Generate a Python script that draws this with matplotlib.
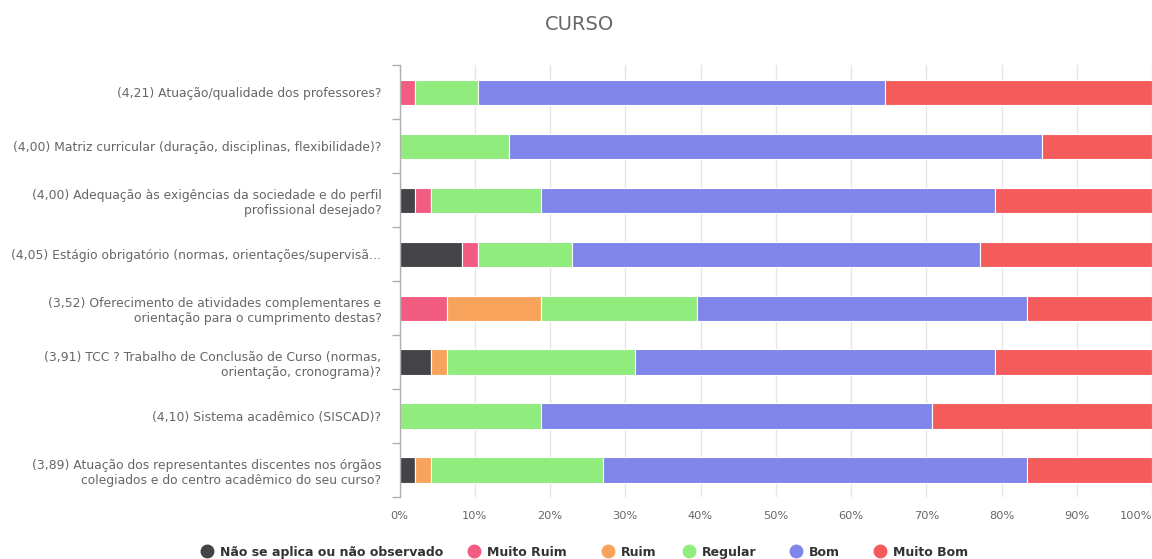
import matplotlib
matplotlib.use("Agg")
import matplotlib.pyplot as plt
from matplotlib.lines import Line2D
import numpy as np

# Survey items (mean score in parentheses)
categories = [
    "(4,21) Atuação/qualidade dos professores?",
    "(4,00) Matriz curricular (duração, disciplinas, flexibilidade)?",
    "(4,00) Adequação às exigências da sociedade e do perfil\nprofissional desejado?",
    "(4,05) Estágio obrigatório (normas, orientações/supervisã...",
    "(3,52) Oferecimento de atividades complementares e\norientação para o cumprimento destas?",
    "(3,91) TCC ? Trabalho de Conclusão de Curso (normas,\norientação, cronograma)?",
    "(4,10) Sistema acadêmico (SISCAD)?",
    "(3,89) Atuação dos representantes discentes nos órgãos\ncolegiados e do centro acadêmico do seu curso?",
]

series_names = ["Não se aplica ou não observado", "Muito Ruim", "Ruim",
                "Regular", "Bom", "Muito Bom"]

# Percentage of answers per item
nao_se_aplica = [0.00, 0.00, 2.08, 8.33, 0.00, 4.17, 0.00, 2.08]
muito_ruim    = [2.08, 0.00, 2.08, 2.08, 6.25, 0.00, 0.00, 0.00]
ruim          = [0.00, 0.00, 0.00, 0.00, 12.50, 2.08, 0.00, 2.08]
regular       = [8.33, 14.58, 14.58, 12.50, 20.83, 25.00, 18.75, 22.92]
bom           = [54.17, 70.83, 60.42, 54.17, 43.75, 47.92, 52.08, 56.25]
muito_bom     = [35.42, 14.58, 20.83, 22.92, 16.67, 20.83, 29.17, 16.67]

x_ticks = [0, 10, 20, 30, 40, 50, 60, 70, 80, 90, 100]
x_tick_labels = ["0%", "10%", "20%", "30%", "40%", "50%", "60%", "70%", "80%", "90%", "100%"]

colors = ["#434348", "#f15c80", "#f7a35c", "#90ed7d", "#8085e9", "#f45b5b"]

W, H = 1152, 559
fig = plt.figure(figsize=(W / 100, H / 100), dpi=100)
ax = fig.add_axes([399.5 / W, 62 / H, 752.5 / W, 431.5 / H])

data = [nao_se_aplica, muito_ruim, ruim, regular, bom, muito_bom]
y = np.arange(len(categories))
left = np.zeros(len(categories))
for name, vals, col in zip(series_names, data, colors):
    vals = np.array(vals)
    ax.barh(y, vals, left=left, height=0.47, color=col, edgecolor="white",
            linewidth=0.8, label=name, zorder=3)
    left += vals

ax.set_xlim(0, 100)
ax.set_ylim(len(categories) - 0.5, -0.5)

# Grid and axes styling
ax.set_xticks(x_ticks)
ax.set_xticklabels(x_tick_labels)
ax.grid(axis="x", color="#e6e6e6", linewidth=1, zorder=0)
ax.tick_params(axis="x", length=0, colors="#666666", labelsize=8.2, pad=10)
xlabels = ax.get_xticklabels()
xlabels[-1].set_horizontalalignment("right")

ax.set_yticks(y)
ax.set_yticklabels(categories, fontsize=8.9, color="#666666", linespacing=1.2)
ax.tick_params(axis="y", length=0, pad=13)
ax.set_yticks(np.arange(len(categories) + 1) - 0.5, minor=True)
ax.tick_params(axis="y", which="minor", length=6, color="#b0b0b0", width=1)

for side in ["top", "right", "bottom"]:
    ax.spines[side].set_visible(False)
ax.spines["left"].set_color("#b0b0b0")
ax.spines["left"].set_linewidth(1)
ax.spines["left"].set_zorder(4)

# Title
fig.text(580 / W, 1 - 25 / H, "CURSO", ha="center", va="center",
         fontsize=14, color="#666666")

# Legend: one row of coloured dots with bold labels sharing a baseline
legend_y = 1 - 551 / H
marker_x = [207, 474, 608, 689, 796, 880]
for name, col, mx in zip(series_names, colors, marker_x):
    fig.add_artist(Line2D([mx / W], [legend_y], transform=fig.transFigure,
                          marker="o", markersize=9, linestyle="none",
                          markerfacecolor=col, markeredgecolor=col))
    fig.text((mx + 13) / W, legend_y, name, ha="left", va="center_baseline",
             fontsize=9, fontweight="bold", color="#333333")

fig.savefig("out.png", dpi=100, facecolor="white")
